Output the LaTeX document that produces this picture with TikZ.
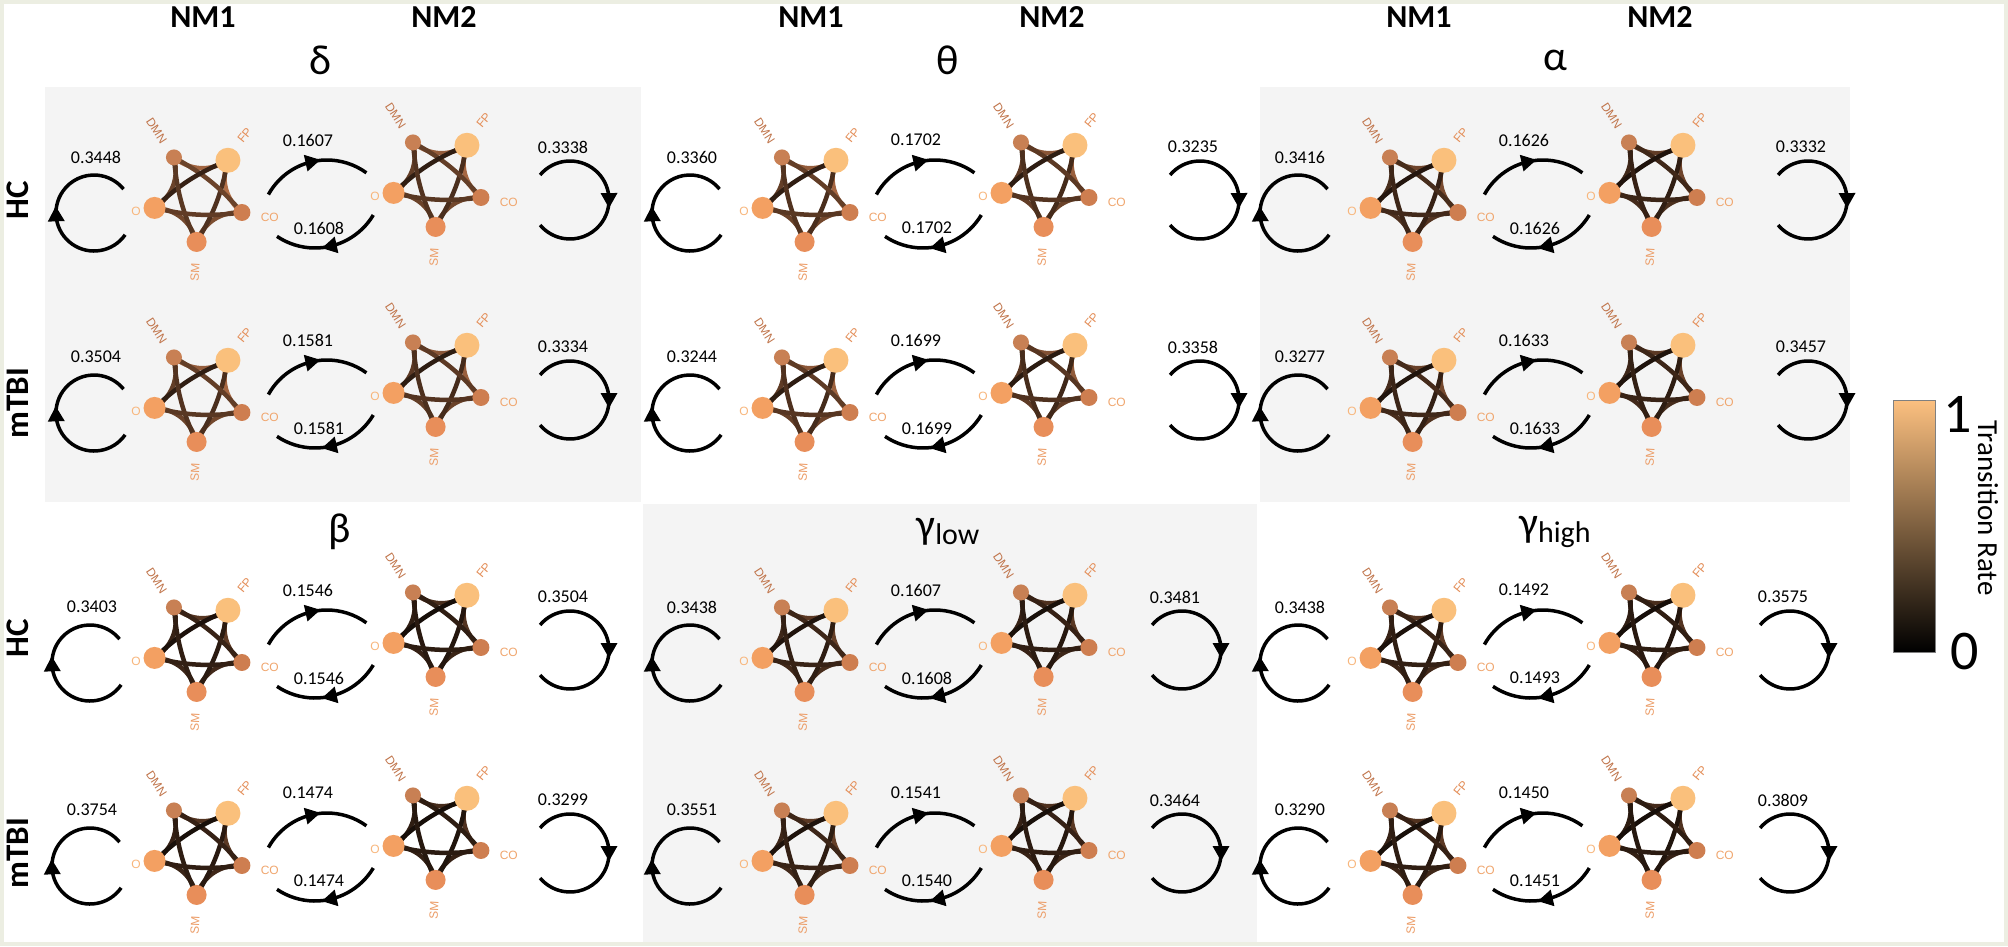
\documentclass[tikz,border=0pt]{standalone}
\usepackage{fontspec}
\setmainfont{Carlito}
\newfontfamily\roifont{Liberation Sans}
\usetikzlibrary{decorations.markings}

\definecolor{frame}{RGB}{236,238,226}
\definecolor{panel}{RGB}{244,244,244}
\definecolor{cu}{RGB}{255,159,101}
\definecolor{cutop}{RGB}{252,192,128}
\definecolor{cumid}{RGB}{172,106,66}
\definecolor{dmncol}{RGB}{200,128,84}
\definecolor{fpcol}{RGB}{250,192,124}
\definecolor{cocol}{RGB}{206,126,80}
\definecolor{smcol}{RGB}{232,142,90}
\definecolor{ocol}{RGB}{243,160,98}
\definecolor{dmnlab}{RGB}{192,116,74}
\definecolor{fplab}{RGB}{228,142,88}
\definecolor{colab}{RGB}{240,166,110}
\definecolor{smlab}{RGB}{236,156,102}
\definecolor{olab}{RGB}{248,182,124}

\pgfdeclarelayer{back}
\pgfdeclarelayer{edges}
\pgfsetlayers{back,edges,main}

\tikzstyle{roi} = [circle, inner sep=0pt, minimum size=20pt]
\tikzstyle{roilab} = [font=\roifont\fontsize{12}{12}\selectfont, inner sep=0pt]
\tikzstyle{rate} = [font=\fontsize{18}{18}\selectfont, inner sep=0pt]
\tikzstyle{head} = [font=\bfseries\fontsize{32}{32}\selectfont, inner sep=0pt]
\tikzstyle{band} = [font=\fontsize{42}{42}\selectfont, inner sep=0pt]
\tikzstyle{group} = [font=\bfseries\fontsize{33}{33}\selectfont, inner sep=0pt, rotate=90]
\tikzstyle{link} = [line width=4.5pt, line cap=round]
\tikzstyle{trans} = [line width=3.5pt, postaction={decorate},
    decoration={markings, mark=at position 0.5 with {\fill (8pt,0pt) -- (-7pt,8.5pt) -- (-7pt,-8.5pt) -- cycle;}}]

% #1 name, #2 centre, #3 edge level
\newcommand{\netw}[3]{
  \def\netlevel{#3}
  \begin{scope}[shift={(#2)}]
    \node[roi, fill=dmncol, minimum size=16pt] (#1-DMN) at (123:46) {};
    \node[roi, fill=fpcol, minimum size=25pt] (#1-FP) at (51:46) {};
    \node[roi, fill=cocol, minimum size=17pt] (#1-CO) at (-21:46) {};
    \node[roi, fill=smcol, minimum size=20pt] (#1-SM) at (-93:46) {};
    \node[roi, fill=ocol, minimum size=22pt] (#1-O) at (195:46) {};
    \node[roilab, text=dmnlab, rotate=-57] (#1-DMNl) at (123:78) {DMN};
    \node[roilab, text=fplab, rotate=51] (#1-FPl) at (53:76) {FP};
    \node[roilab, text=colab] (#1-COl) at (-17:74) {CO};
    \node[roilab, text=smlab, rotate=87] (#1-SMl) at (-93:76) {SM};
    \node[roilab, text=olab] (#1-Ol) at (194:65) {O};
  \end{scope}
  \begin{pgfonlayer}{edges}
    \foreach \a/\b/\f/\bl in {SM/CO/70/36, CO/FP/100/36, FP/DMN/90/36, DMN/O/60/36, O/SM/65/36,
        SM/FP/45/-10, CO/DMN/60/-10, FP/O/30/-10, DMN/SM/50/-10, O/CO/55/-10}{
      \pgfmathtruncatemacro{\lv}{\netlevel*\f/100}
      \draw[link, draw=cu!\lv!black] (#1-\a.center) to[bend left=\bl] (#1-\b.center);
    }
  \end{pgfonlayer}
}

% #1 name, #2 shift, #3-#6 rates, #7 edge level, #8 #9 loop shifts
\newcommand{\bandcell}[9]{
  \begin{scope}[shift={(#2)}]
    \netw{#1a}{199,-196}{#7}
    \pgfmathtruncatemacro{\lvb}{#7-5}
    \netw{#1b}{438,-181}{\lvb}
    \draw[trans] ([shift={(-35:38)}]94+#8,-213) arc[start angle=-35, end angle=-321, radius=38];
    \draw[trans] ([shift={(140:39)}]570+#9,-200) arc[start angle=140, end angle=-140, radius=39];
    \draw[trans] ([shift={(151:67)}]327,-227) arc[start angle=151, end angle=54, radius=67];
    \draw[trans] ([shift={(-31:68)}]315,-180) arc[start angle=-31, end angle=-124, radius=68];
    \node[rate] (#1-self1) at (96+#8,-157) {#3};
    \node[rate] (#1-fwd) at (308,-140) {#4};
    \node[rate] (#1-bwd) at (319,-228) {#5};
    \node[rate] (#1-self2) at (563+#9,-147) {#6};
  \end{scope}}

\begin{document}
\begin{tikzpicture}[x=1pt, y=1pt]
  \begin{pgfonlayer}{back}
    \fill[frame] (0,0) rectangle (2008,-946);
    \fill[white] (4,-4) rectangle (2004,-942);
    \fill[panel] (45,-87) rectangle (641,-502);
    \fill[panel] (1260,-87) rectangle (1850,-502);
    \fill[panel] (643,-504) rectangle (1257,-942);
  \end{pgfonlayer}

  \node[head] (h11) at (203,-17) {NM1};
  \node[head] (h12) at (444,-17) {NM2};
  \node[head] (h21) at (811,-17) {NM1};
  \node[head] (h22) at (1052,-17) {NM2};
  \node[head] (h31) at (1419,-17) {NM1};
  \node[head] (h32) at (1660,-17) {NM2};

  \node[band] (delta) at (320,-60) {δ};
  \node[band] (theta) at (948,-60) {θ};
  \node[band] (alpha) at (1555,-60) {α};
  \node[band] (beta) at (340,-532) {β};
  \node[band] (glow) at (948,-532) {γ\raisebox{-6pt}{\fontsize{30}{30}\selectfont low}};
  \node[band] (ghigh) at (1555,-532) {γ\raisebox{-6pt}{\fontsize{30}{30}\selectfont high}};

  \node[group] (g1) at (18,-200) {HC};
  \node[group] (g2) at (18,-403) {mTBI};
  \node[group] (g3) at (18,-638) {HC};
  \node[group] (g4) at (18,-853) {mTBI};

  \bandcell{dHC}{0,0}{0.3448}{0.1607}{0.1608}{0.3338}{70}{0}{0}
  \bandcell{dTBI}{0,-200}{0.3504}{0.1581}{0.1581}{0.3334}{65}{0}{0}
  \bandcell{tHC}{608,0}{0.3360}{0.1702}{0.1702}{0.3235}{65}{-12}{22}
  \bandcell{tTBI}{608,-200}{0.3244}{0.1699}{0.1699}{0.3358}{62}{-12}{22}
  \bandcell{aHC}{1216,0}{0.3416}{0.1626}{0.1626}{0.3332}{48}{-12}{22}
  \bandcell{aTBI}{1216,-200}{0.3277}{0.1633}{0.1633}{0.3457}{46}{-12}{22}
  \bandcell{bHC}{0,-450}{0.3403}{0.1546}{0.1546}{0.3504}{38}{-4}{0}
  \bandcell{bTBI}{0,-653}{0.3754}{0.1474}{0.1474}{0.3299}{36}{-4}{0}
  \bandcell{glHC}{608,-450}{0.3438}{0.1607}{0.1608}{0.3481}{40}{-12}{4}
  \bandcell{glTBI}{608,-653}{0.3551}{0.1541}{0.1540}{0.3464}{40}{-12}{4}
  \bandcell{ghHC}{1216,-450}{0.3438}{0.1492}{0.1493}{0.3575}{38}{-12}{4}
  \bandcell{ghTBI}{1216,-653}{0.3290}{0.1450}{0.1451}{0.3809}{36}{-12}{4}

  \shade[top color=cutop, middle color=cumid, bottom color=black] (1893,-400) rectangle (1935,-652);
  \draw[gray, line width=0.8pt] (1893,-400) rectangle (1935,-652);
  \node[font=\fontsize{56}{56}\selectfont, inner sep=0pt] (cmax) at (1958,-414) {1};
  \node[font=\fontsize{56}{56}\selectfont, inner sep=0pt] (cmin) at (1965,-652) {0};
  \node[font=\fontsize{29}{29}\selectfont, inner sep=0pt, rotate=-90] (clab) at (1988,-508) {Transition Rate};
\end{tikzpicture}
\end{document}
